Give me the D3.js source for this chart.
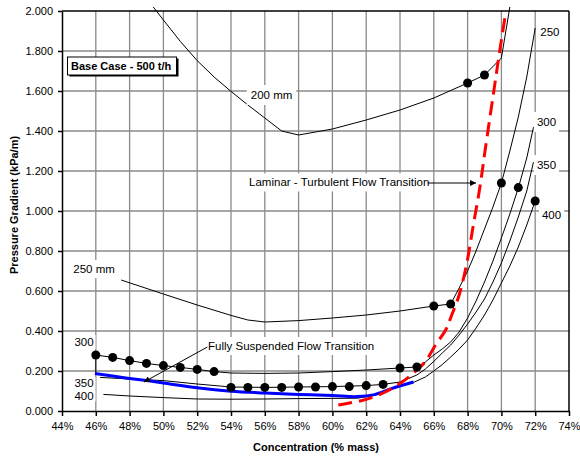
<!DOCTYPE html>
<html><head><meta charset="utf-8">
<script src="https://cdn.jsdelivr.net/npm/d3@7"></script>
<style>
html,body{margin:0;padding:0;background:#fff;}
svg{display:block;font-family:"Liberation Sans",Arial,sans-serif;}
</style></head>
<body><svg id="c" width="580" height="459"></svg>
<script>
// ---- data ----
const xTicks = [44,46,48,50,52,54,56,58,60,62,64,66,68,70,72,74];
const yTicks = [0,0.2,0.4,0.6,0.8,1.0,1.2,1.4,1.6,1.8,2.0];

const line200 = [[49.4,2.02],[50,1.955],[51,1.848],[52,1.752],[53,1.67],[54,1.598],[55,1.53],[56,1.465],[57,1.40],[58,1.38],[60,1.41],[62,1.455],[64,1.505],[66,1.565],[68,1.64],[69,1.68],[70,1.765],[70.5,2.02]];
const dots200 = [[68,1.64],[69,1.68]];

const line250 = [[47.5,0.655],[50,0.585],[52,0.53],[54,0.478],[55,0.455],[56,0.445],[58,0.452],[60,0.465],[62,0.48],[64,0.5],[66,0.525],[67,0.535],[67.5,0.615],[68,0.70],[68.5,0.80],[69,0.91],[69.5,1.02],[70,1.14],[70.5,1.30],[71,1.47],[71.5,1.67],[72,1.915]];
const dots250 = [[66,0.525],[67,0.535]];

const line300 = [[46,0.19],[46,0.28],[47,0.268],[48,0.252],[49,0.238],[50,0.227],[51,0.218],[52,0.208],[53,0.197],[54,0.19],[56,0.188],[58,0.19],[60,0.197],[62,0.205],[64,0.215],[65,0.22],[65.5,0.245],[66,0.28],[66.5,0.31],[67,0.345],[67.5,0.395],[68,0.465],[68.5,0.55],[69,0.645],[69.5,0.75],[70,0.865],[70.5,0.985],[71,1.115],[71.5,1.265],[71.9,1.42]];
const dots300 = [[46,0.28],[47,0.268],[48,0.252],[49,0.238],[50,0.227],[51,0.218],[52,0.208],[53,0.197],[64,0.215],[65,0.22]];

const line350 = [[46.25,0.168],[48,0.16],[50,0.152],[52,0.135],[54,0.12],[56,0.118],[58,0.12],[60,0.122],[62,0.127],[63,0.133],[64,0.145],[65,0.18],[65.5,0.21],[66,0.248],[66.5,0.29],[67,0.33],[67.5,0.38],[68,0.435],[68.5,0.495],[69,0.56],[69.5,0.645],[70,0.74],[70.5,0.85],[71,0.97],[71.5,1.1],[71.9,1.245]];
const dots350 = [[54,0.118],[55,0.118],[56,0.118],[57,0.118],[58,0.12],[59,0.12],[60,0.122],[61,0.122],[62,0.127],[63,0.133]];

const line400 = [[46.45,0.083],[48,0.075],[50,0.067],[52,0.06],[54,0.059],[56,0.06],[58,0.062],[60,0.063],[61.5,0.064],[62.5,0.08],[63.5,0.11],[64.8,0.143],[65.5,0.17],[66,0.2],[66.5,0.232],[67,0.27],[67.5,0.31],[68,0.355],[68.5,0.415],[69,0.48],[69.5,0.555],[70,0.64],[70.5,0.725],[71,0.82],[71.5,0.93],[72,1.05]];

const dotsRight = [[70,1.14],[71,1.117],[72,1.05]];

const fullySuspended = [[45.95,0.188],[47,0.175],[48,0.163],[49,0.152],[50,0.14],[52,0.116],[54,0.099],[56,0.09],[58,0.083],[60,0.077],[61.5,0.072],[62.5,0.082],[63.5,0.112],[64.8,0.145]];

const laminarTurbulent = [[60.35,0.03],[61,0.04],[62,0.058],[63,0.09],[64,0.138],[64.9,0.197],[65.5,0.247],[66.1,0.33],[66.7,0.405],[67.06,0.48],[67.5,0.58],[67.95,0.738],[68.34,0.93],[68.73,1.12],[69.03,1.3],[69.5,1.57],[69.9,1.8],[70.27,2.0]];

// ---- chart ----
const svg = d3.select("#c");
const M = {l:62, r:569, t:11, b:411};
const x = d3.scaleLinear().domain([44,74]).range([M.l,M.r]);
const y = d3.scaleLinear().domain([0,2]).range([M.b,M.t]);

svg.append("rect").attr("width",580).attr("height",459).attr("fill","#fff");

// grid
const g = svg.append("g");
g.selectAll(".vg").data(xTicks.slice(1,-1)).enter().append("line")
  .attr("x1",d=>x(d)).attr("x2",d=>x(d)).attr("y1",M.t).attr("y2",M.b)
  .attr("stroke","#8a8a8a").attr("stroke-width",1.3);
g.selectAll(".hg").data(yTicks.slice(1,-1)).enter().append("line")
  .attr("y1",d=>y(d)).attr("y2",d=>y(d)).attr("x1",M.l).attr("x2",M.r)
  .attr("stroke","#8a8a8a").attr("stroke-width",1.3);
// border top/right
svg.append("line").attr("x1",M.l).attr("x2",M.r).attr("y1",M.t).attr("y2",M.t).attr("stroke","#000").attr("stroke-width",1.5);
svg.append("line").attr("x1",M.r).attr("x2",M.r).attr("y1",M.t).attr("y2",M.b).attr("stroke","#000").attr("stroke-width",1.5);

// axes
const ax = svg.append("g").attr("transform",`translate(0,${M.b})`)
  .call(d3.axisBottom(x).tickValues(xTicks).tickFormat(d=>d+"%").tickSize(5).tickSizeOuter(0).tickPadding(6));
const ay = svg.append("g").attr("transform",`translate(${M.l},0)`)
  .call(d3.axisLeft(y).tickValues(yTicks).tickFormat(d3.format(".3f")).tickSize(4).tickSizeOuter(0).tickPadding(5));
[ax,ay].forEach(a=>{
  a.selectAll("text").attr("font-size",11).attr("fill","#000").attr("font-family","Liberation Sans, Arial, sans-serif");
  a.selectAll("line,path").attr("stroke","#000").attr("stroke-width",1.5);
});

// titles
svg.append("text").attr("x",316).attr("y",451).attr("text-anchor","middle")
  .attr("font-size",11).attr("font-weight","bold").text("Concentration (% mass)");
svg.append("text").attr("transform","translate(18,205) rotate(-90)").attr("text-anchor","middle")
  .attr("font-size",11).attr("font-weight","bold").text("Pressure Gradient (kPa/m)");

// label helper (white background)
function label(txt, cx, cy, anchor, opts={}){
  const grp = svg.append("g");
  const r = grp.append("rect").attr("fill","#fff");
  const t = grp.append("text").attr("x",x(cx)).attr("y",y(cy)).attr("dy","0.35em")
    .attr("text-anchor",anchor||"start").attr("font-size",opts.fs||11).text(txt);
  const bb = t.node().getBBox();
  const px = opts.px!=null?opts.px:3, py = opts.py!=null?opts.py:3;
  r.attr("x",bb.x-px).attr("y",bb.y-py).attr("width",bb.width+2*px).attr("height",bb.height+2*py);
  return grp;
}

const lineGen = d3.line().x(d=>x(d[0])).y(d=>y(d[1]));
const smooth = d3.line().x(d=>x(d[0])).y(d=>y(d[1])).curve(d3.curveCatmullRom.alpha(0.5));

// black pipe curves
const lines = svg.append("g");
[line200,line250,line300,line350,line400].forEach(L=>{
  lines.append("path").attr("d",lineGen(L)).attr("fill","none").attr("stroke","#000").attr("stroke-width",1);
});

// labels that sit over curves
label("200 mm",56.4,1.58,"middle",{px:4,py:4,fs:11.5});
label("250 mm",45.9,0.71,"middle",{px:3,py:3,fs:11.5});
label("300",45.3,0.345,"middle",{px:2,py:1,fs:11.5});
label("350",45.3,0.14,"middle",{px:2,py:0,fs:11.5});
label("400",45.3,0.077,"middle",{px:2,py:0,fs:11.5});
label("250",72.3,1.895,"start",{px:3,py:3,fs:11.5});
label("300",72.1,1.445,"start",{px:3,py:4,fs:11.5});
label("350",72.1,1.23,"start",{px:3,py:4,fs:11.5});
label("400",72.4,0.98,"start",{px:3,py:4,fs:11.5});

// blue fully suspended line
svg.append("path").attr("d",smooth(fullySuspended)).attr("fill","none").attr("stroke","#0000ff").attr("stroke-width",3);
// red laminar-turbulent line
svg.append("path").attr("d",smooth(laminarTurbulent)).attr("fill","none").attr("stroke","#ff0000")
  .attr("stroke-width",3).attr("stroke-dasharray","14,7");

// dots
const allDots = [].concat(dots200,dots250,dots300,dots350,dotsRight);
svg.append("g").selectAll("circle").data(allDots).enter().append("circle")
  .attr("cx",d=>x(d[0])).attr("cy",d=>y(d[1])).attr("r",4.5).attr("fill","#000");

// annotations with arrows
svg.append("defs").append("marker").attr("id","ah").attr("viewBox","0 0 10 10")
  .attr("refX",10).attr("refY",5).attr("markerWidth",9).attr("markerHeight",6)
  .attr("markerUnits","userSpaceOnUse").attr("orient","auto")
  .append("path").attr("d","M0,0L10,5L0,10z").attr("fill","#000");

label("Laminar - Turbulent Flow Transition",55.07,1.143,"start",{px:3,py:3,fs:11.5});
svg.append("line").attr("x1",x(65.65)).attr("y1",y(1.14)).attr("x2",x(68.5)).attr("y2",y(1.14))
  .attr("stroke","#000").attr("stroke-width",1).attr("marker-end","url(#ah)");

label("Fully Suspended Flow Transition",52.64,0.325,"start",{px:3,py:3,fs:11.5});
svg.append("line").attr("x1",x(52.6)).attr("y1",y(0.32)).attr("x2",x(48.85)).attr("y2",y(0.145))
  .attr("stroke","#000").attr("stroke-width",1).attr("marker-end","url(#ah)");

// base case box
const bx = svg.append("g");
bx.append("rect").attr("x",69.5).attr("y",58.5).attr("width",109).attr("height",18).attr("fill","#000");
bx.append("rect").attr("x",67.5).attr("y",57).attr("width",109).attr("height",18).attr("fill","#fff").attr("stroke","#000").attr("stroke-width",1);
bx.append("text").attr("x",71).attr("y",66).attr("dy","0.35em").attr("font-size",11).attr("font-weight","bold").text("Base Case - 500 t/h");
</script>
</body></html>
